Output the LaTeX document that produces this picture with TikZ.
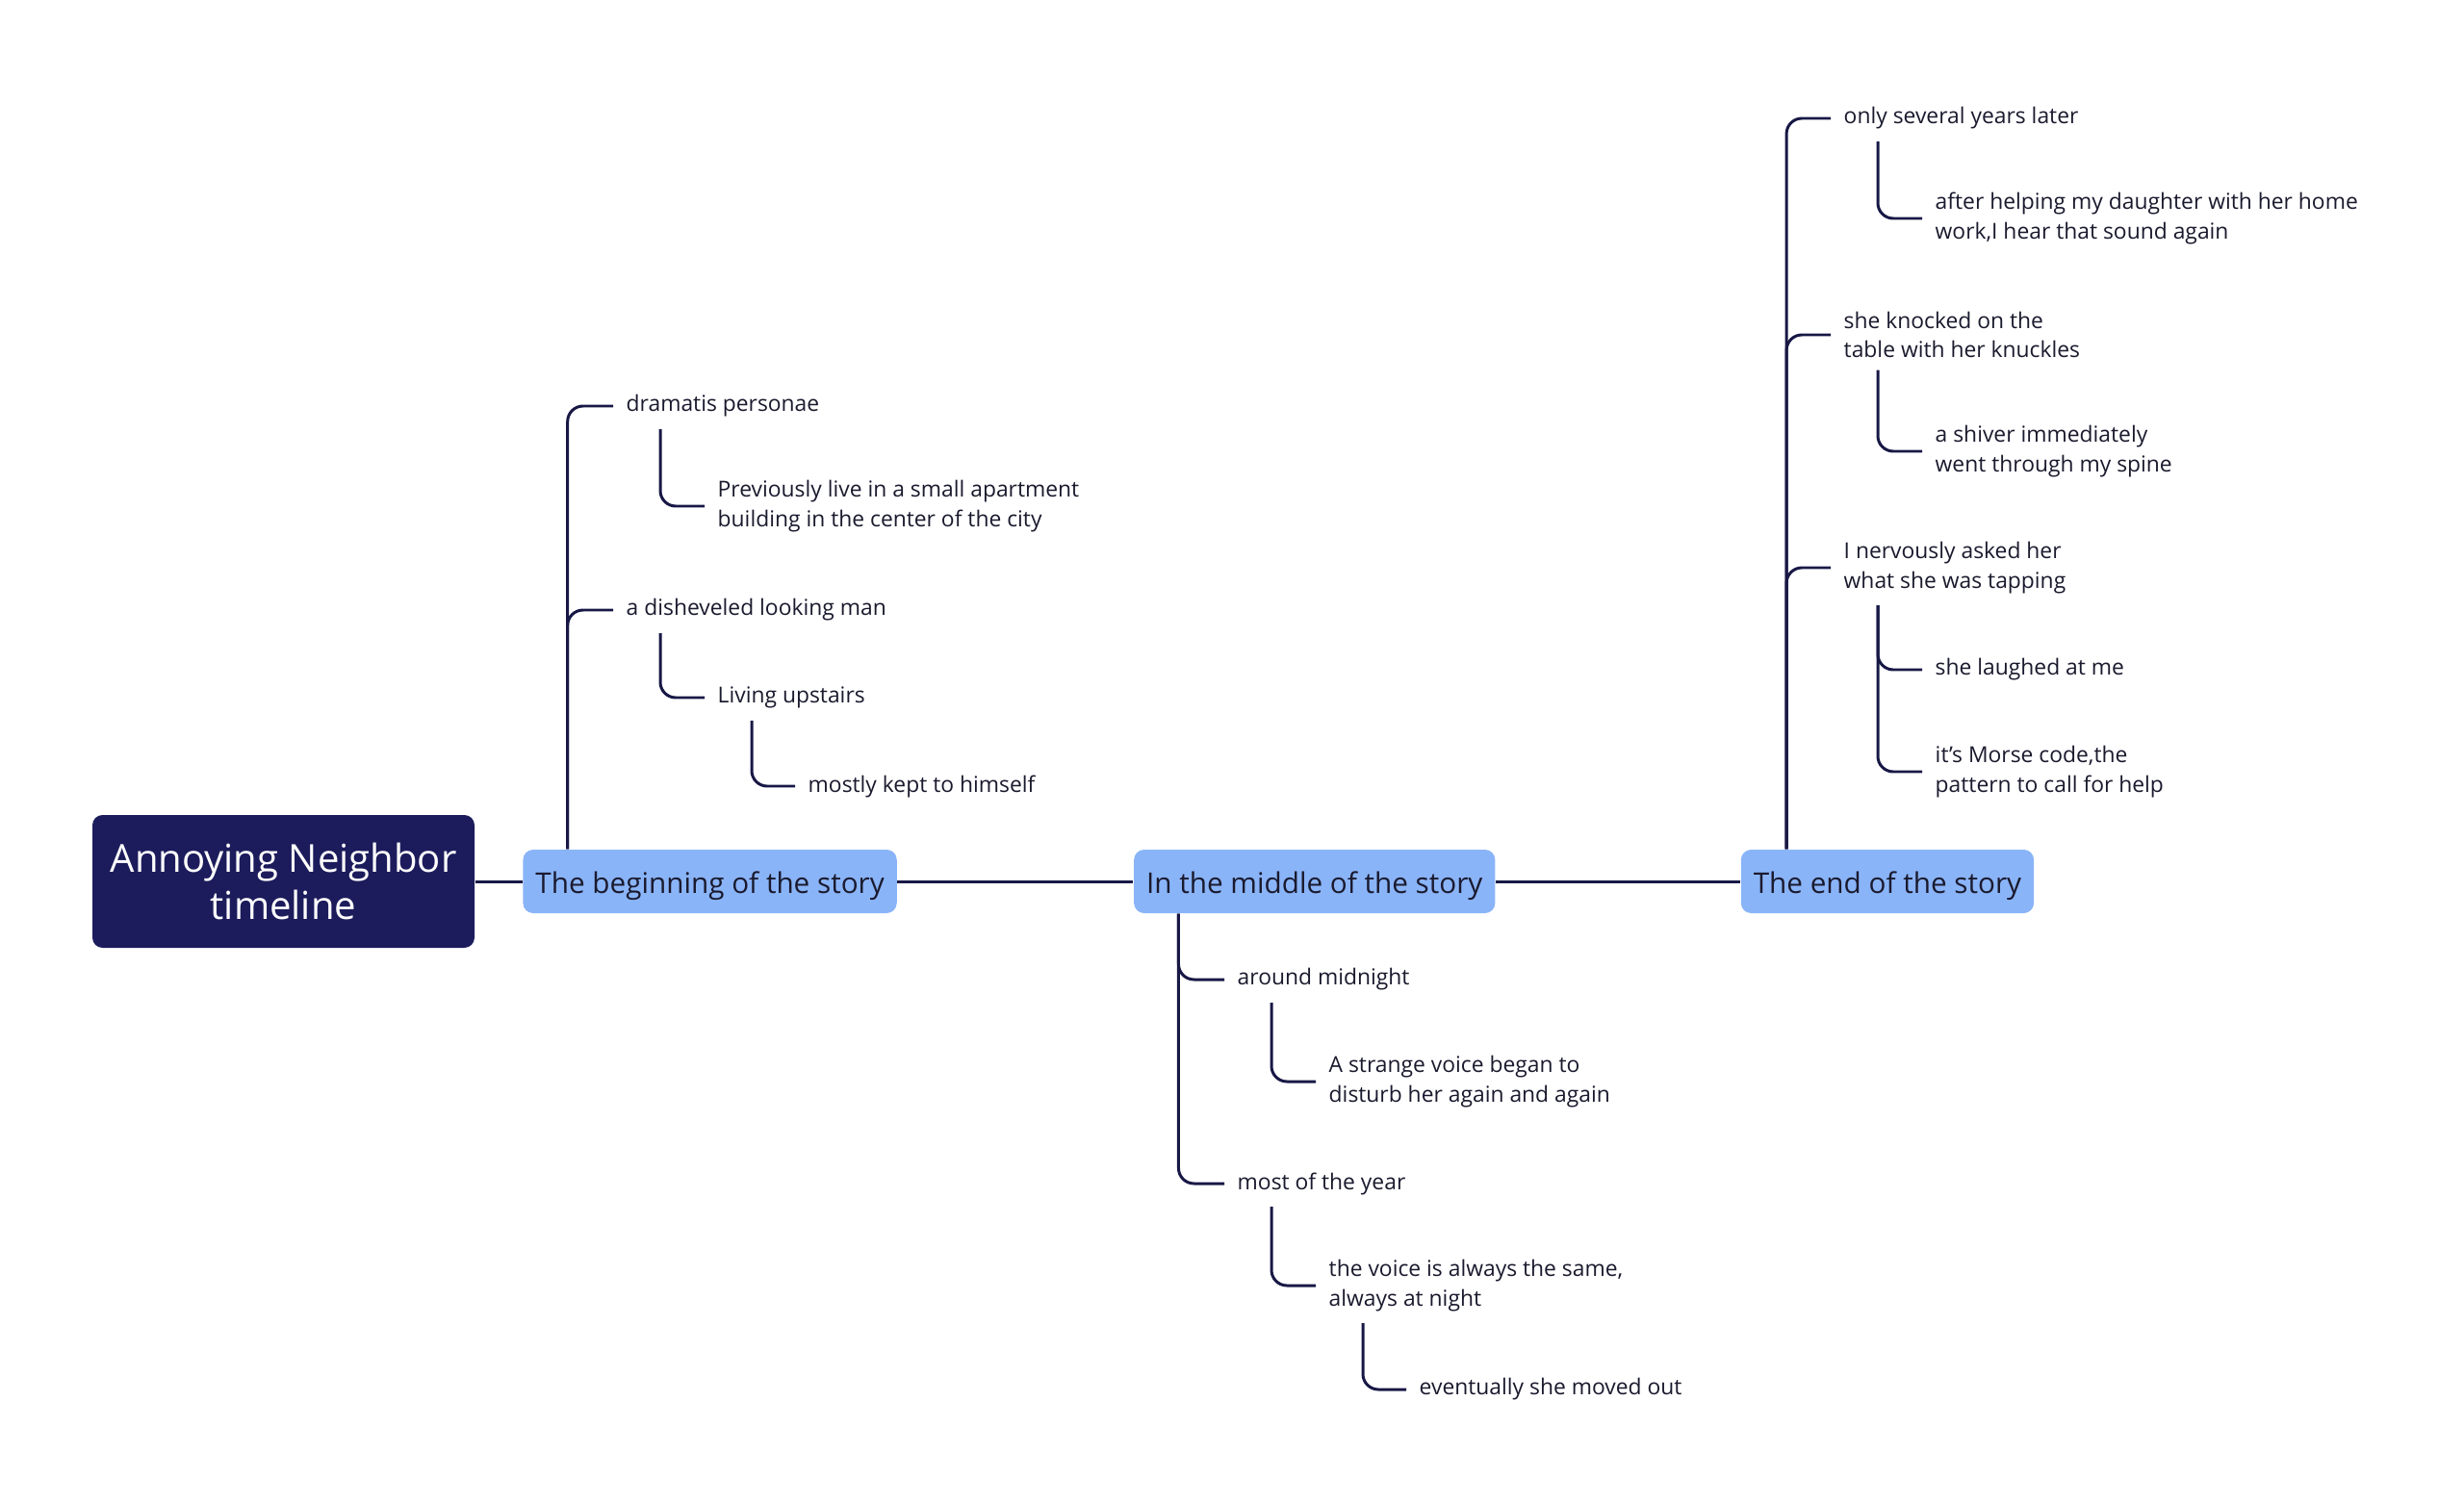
\documentclass[tikz,border=0pt]{standalone}
\usepackage{fontspec}
\setmainfont{Open Sans}
\usepackage{tikz}
\usetikzlibrary{positioning}

\definecolor{navy}{RGB}{28,28,92}
\definecolor{linkcol}{RGB}{24,24,70}
\definecolor{skyblue}{RGB}{138,180,248}
\definecolor{inktext}{RGB}{26,26,46}

\begin{document}
\begin{tikzpicture}[
  root/.style={rectangle, fill=navy, text=white, rounded corners=3pt, minimum width=3.97cm, minimum height=1.38cm, align=center, font=\fontsize{11.4}{14.2}\selectfont},
  stage/.style={rectangle, fill=skyblue, text=inktext, rounded corners=3pt, inner xsep=0.13cm, minimum height=0.66cm, text height=0.95em, text depth=0.24em, align=center, font=\fontsize{8.45}{10}\selectfont},
  leaf/.style={anchor=west, inner sep=0pt, align=left, text=inktext, font=\fontsize{6.5}{8.6}\selectfont},
  link/.style={draw=linkcol, line width=0.85pt, rounded corners=0.16cm, shorten >=0.13cm}
]
\useasboundingbox (0,0) rectangle (25.6,-15.62);

\node[root] (top) at (2.945,-9.16) {Annoying Neighbor\\timeline};

\node[stage, right=0.49cm of top] (begin) {The beginning of the story};
\node[stage, right=2.45cm of begin] (middle) {In the middle of the story};
\node[stage, right=2.54cm of middle] (finish) {The end of the story};

\draw[link, shorten >=0pt] (top) -- (begin);
\draw[link, shorten >=0pt] (begin) -- (middle);
\draw[link, shorten >=0pt] (middle) -- (finish);

\node[leaf] (b1) at (6.50,-4.22) {dramatis personae};
\node[leaf] (b1a) at (7.45,-5.26) {Previously live in a small apartment\\building in the center of the city};
\node[leaf] (b2) at (6.50,-6.34) {a disheveled looking man};
\node[leaf] (b2a) at (7.45,-7.25) {Living upstairs};
\node[leaf] (b2b) at (8.39,-8.17) {mostly kept to himself};

\node[leaf] (m1) at (12.85,-10.18) {around midnight};
\node[leaf] (m1a) at (13.80,-11.24) {A strange voice began to\\disturb her again and again};
\node[leaf] (m2) at (12.85,-12.30) {most of the year};
\node[leaf] (m2a) at (13.80,-13.36) {the voice is always the same,\\always at night};
\node[leaf] (m2b) at (14.74,-14.44) {eventually she moved out};

\node[leaf] (e1) at (19.15,-1.23) {only several years later};
\node[leaf] (e1a) at (20.10,-2.27) {after helping my daughter with her home\\work,I hear that sound again};
\node[leaf] (e2) at (19.15,-3.48) {she knocked on the\\table with her knuckles};
\node[leaf] (e2a) at (20.10,-4.69) {a shiver immediately\\went through my spine};
\node[leaf] (e3) at (19.15,-5.90) {I nervously asked her\\what she was tapping};
\node[leaf] (e3a) at (20.10,-6.96) {she laughed at me};
\node[leaf] (e3b) at (20.10,-8.02) {it's Morse code,the\\pattern to call for help};

\draw[link] ([xshift=0.47cm]begin.north west) |- (b1.west);
\draw[link] ([xshift=0.47cm]begin.north west) |- (b2.west);
\draw[link] ([xshift=0.36cm,yshift=-0.12cm]b1.south west) |- (b1a.west);
\draw[link] ([xshift=0.36cm,yshift=-0.12cm]b2.south west) |- (b2a.west);
\draw[link] ([xshift=0.36cm,yshift=-0.12cm]b2a.south west) |- (b2b.west);

\draw[link] ([xshift=0.47cm]middle.south west) |- (m1.west);
\draw[link] ([xshift=0.47cm]middle.south west) |- (m2.west);
\draw[link] ([xshift=0.36cm,yshift=-0.12cm]m1.south west) |- (m1a.west);
\draw[link] ([xshift=0.36cm,yshift=-0.12cm]m2.south west) |- (m2a.west);
\draw[link] ([xshift=0.36cm,yshift=-0.12cm]m2a.south west) |- (m2b.west);

\draw[link] ([xshift=0.48cm]finish.north west) |- (e1.west);
\draw[link] ([xshift=0.48cm]finish.north west) |- (e2.west);
\draw[link] ([xshift=0.48cm]finish.north west) |- (e3.west);
\draw[link] ([xshift=0.36cm,yshift=-0.12cm]e1.south west) |- (e1a.west);
\draw[link] ([xshift=0.36cm,yshift=-0.12cm]e2.south west) |- (e2a.west);
\draw[link] ([xshift=0.36cm,yshift=-0.12cm]e3.south west) |- (e3a.west);
\draw[link] ([xshift=0.36cm,yshift=-0.12cm]e3.south west) |- (e3b.west);

\end{tikzpicture}
\end{document}
